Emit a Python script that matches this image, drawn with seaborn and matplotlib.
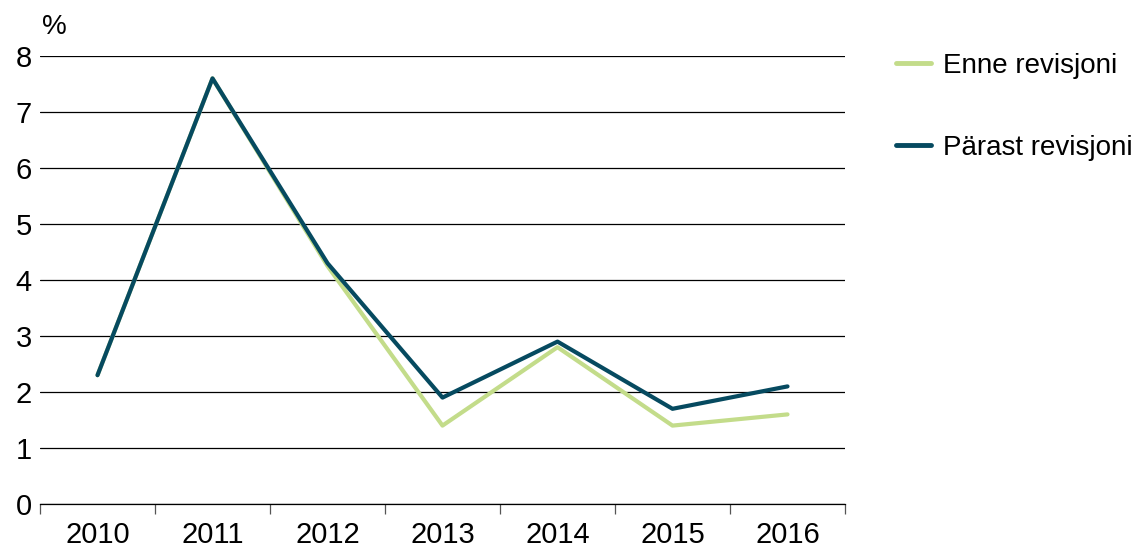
import matplotlib
matplotlib.use("Agg")
import matplotlib.pyplot as plt
import seaborn as sns
import pandas as pd

# Chart data
years = ["2010", "2011", "2012", "2013", "2014", "2015", "2016"]
enne = [2.3, 7.6, 4.25, 1.4, 2.8, 1.4, 1.6]
parast = [2.3, 7.6, 4.3, 1.9, 2.9, 1.7, 2.1]
series_names = ["Enne revisjoni", "Pärast revisjoni"]
colors = ["#c3dc8a", "#064a60"]

df = pd.DataFrame({"pos": range(len(years)), series_names[0]: enne, series_names[1]: parast})
long_df = df.melt(id_vars="pos", var_name="Series", value_name="Value")

sns.set_theme(style="white")
plt.rcParams["font.family"] = ["Liberation Sans", "DejaVu Sans"]
plt.rcParams["text.color"] = "black"

fig = plt.figure(figsize=(11.46, 5.48), dpi=100)
ax = fig.add_axes([40 / 1146, 44 / 548, 805 / 1146, 448 / 548])

sns.lineplot(data=long_df, x="pos", y="Value", hue="Series", palette=colors,
             linewidth=3, ax=ax, legend=False)

ax.set_xlim(-0.5, len(years) - 0.5)
ax.set_ylim(0, 8)
ax.set_yticks(range(0, 9))
ax.yaxis.grid(True, color="black", linewidth=0.9)
ax.set_axisbelow(True)
ax.tick_params(axis="y", length=0, labelsize=21, pad=6, colors="black")

# category axis: tick marks between years, labels at centers
ax.set_xticks([i - 0.5 for i in range(len(years) + 1)])
ax.set_xticklabels([])
ax.set_xticks(range(len(years)), minor=True)
ax.set_xticklabels(years, minor=True)
ax.tick_params(axis="x", which="major", direction="out", length=7, width=0.9, color="#555555", bottom=True)
ax.tick_params(axis="x", which="minor", length=0, labelsize=21, pad=12, colors="black")

for s in ["top", "right", "left"]:
    ax.spines[s].set_visible(False)
ax.spines["bottom"].set_color("black")
ax.spines["bottom"].set_linewidth(0.9)

ax.set_xlabel("")
ax.set_ylabel("")
fig.text(42 / 1146, 1 - 27 / 548, "%", fontsize=20, va="center", ha="left")

handles = [plt.Line2D([], [], color=c, linewidth=3.5) for c in colors]
fig.legend(handles, series_names, loc="upper left", bbox_to_anchor=(896 / 1146, 1 - 53 / 548),
           frameon=False, fontsize=20, handlelength=1.27, handletextpad=0.42,
           labelspacing=2.0, borderpad=0, borderaxespad=0)

fig.savefig("out.png", dpi=100)
